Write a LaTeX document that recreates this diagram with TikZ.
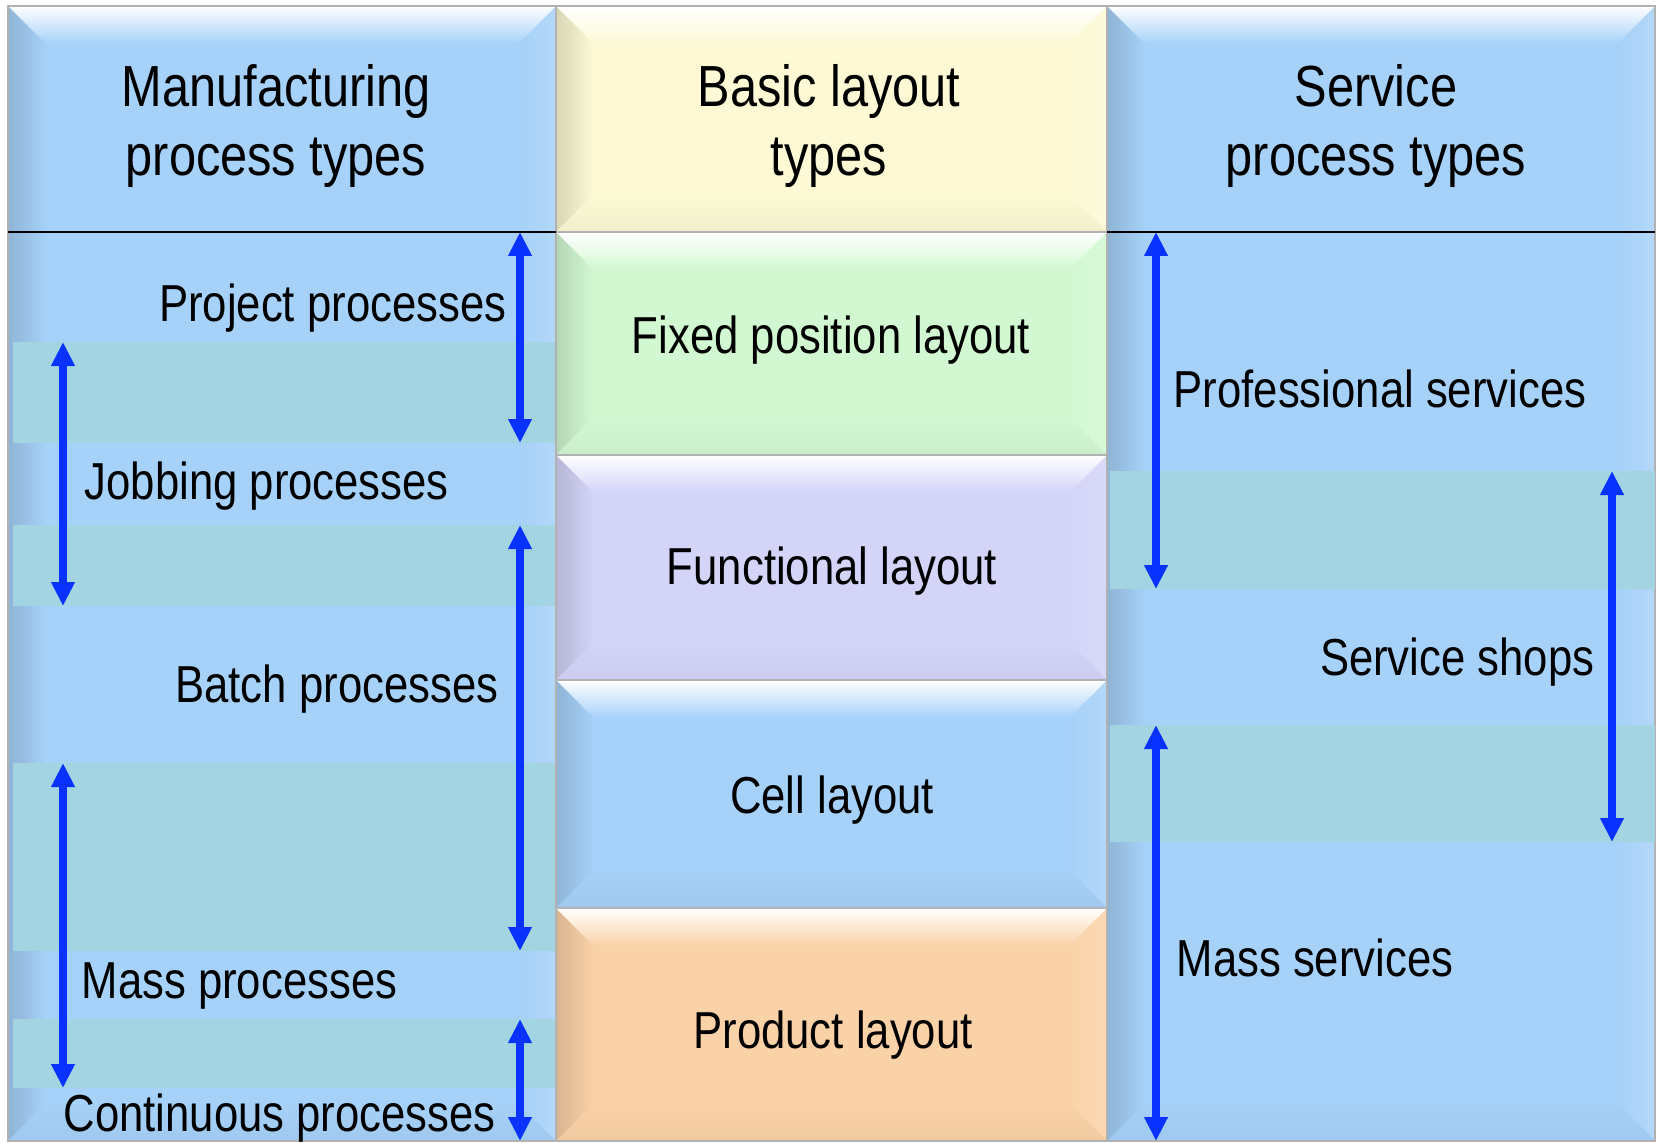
\documentclass[tikz,border=0pt]{standalone}
\usepackage{fontspec}
\setmainfont{Liberation Sans}[FakeStretch=0.84]
\usetikzlibrary{arrows.meta}

\definecolor{colblue}{RGB}{166,209,248}
\definecolor{bandteal}{RGB}{162,212,226}
\definecolor{hdyellow}{RGB}{252,249,212}
\definecolor{fixgreen}{RGB}{210,248,210}
\definecolor{funlilac}{RGB}{211,212,248}
\definecolor{prodorange}{RGB}{250,210,168}
\definecolor{arrowblue}{RGB}{10,50,255}

\newcommand{\bevelbox}[5]{%
  \fill [#5] (#1,#2) rectangle (#3,#4);
  \shade [left color=#5!86!black, right color=#5] (#1,#2) -- ({#1+38},{#2+38}) -- ({#1+38},{#4-38}) -- (#1,#4) -- cycle;
  \shade [left color=#5, right color=#5!85!white] (#3,#2) -- ({#3-38},{#2+38}) -- ({#3-38},{#4-38}) -- (#3,#4) -- cycle;
  \shade [top color=#5, bottom color=#5!96!black] (#1,#4) -- (#3,#4) -- ({#3-38},{#4-38}) -- ({#1+38},{#4-38}) -- cycle;
  \shade [top color=white, bottom color=#5] (#1,#2) -- (#3,#2) -- ({#3-38},{#2+38}) -- ({#1+38},{#2+38}) -- cycle;
  \draw [gray!60, line width=0.6pt] (#1,#2) rectangle (#3,#4);
}

\tikzset{
  hdr/.style={font=\fontsize{17.4}{20.7}\selectfont, align=center, inner sep=0pt},
  lbl/.style={font=\fontsize{15.6}{18}\selectfont, inner sep=0pt},
  span/.style={arrowblue, line width=2.5pt,
    {Triangle[width=6.7pt,length=7.2pt]}-{Triangle[width=6.7pt,length=7.2pt]}},
}

\begin{document}
\begin{tikzpicture}[x=0.3pt, y=-0.3pt]

\useasboundingbox [fill=white] (0,0) rectangle (1661,1143);

\bevelbox{8}{6}{556}{1141}{colblue}
\fill [bandteal] (13,342) rectangle (556,443);
\fill [bandteal] (13,525) rectangle (556,606);
\fill [bandteal] (13,763) rectangle (556,951);
\fill [bandteal] (13,1019) rectangle (556,1088);

\bevelbox{1107}{6}{1655}{1141}{colblue}
\fill [bandteal] (1110,471) rectangle (1655,589);
\fill [bandteal] (1110,725) rectangle (1655,842);

\bevelbox{556}{6}{1107}{232}{hdyellow}
\bevelbox{556}{232}{1107}{455}{fixgreen}
\bevelbox{556}{455}{1107}{680}{funlilac}
\bevelbox{556}{680}{1107}{908}{colblue}
\bevelbox{556}{908}{1107}{1141}{prodorange}

\draw [black, line width=0.8pt] (8,232) -- (556,232);
\draw [black, line width=0.8pt] (1107,232) -- (1655,232);

\node [hdr] (mfghdr) at (276,126) {Manufacturing\\process types};
\node [hdr] (layhdr) at (829,126) {Basic layout\\types};
\node [hdr] (srvhdr) at (1376,126) {Service\\process types};

\node [lbl] (fixed) at (831,340) {Fixed position layout};
\node [lbl] (functional) at (832,571) {Functional layout};
\node [lbl] (cell) at (832,800) {Cell layout};
\node [lbl] (product) at (833,1035) {Product layout};

\node [lbl, anchor=east] (project) at (507,308) {Project processes};
\node [lbl, anchor=west] (jobbing) at (84,486) {Jobbing processes};
\node [lbl, anchor=east] (batch) at (499,689) {Batch processes};
\node [lbl, anchor=west] (mass) at (81,986) {Mass processes};
\node [lbl, anchor=west] (continuous) at (63,1118) {Continuous processes};

\node [lbl, anchor=west] (professional) at (1173,389) {Professional services};
\node [lbl, anchor=east] (shops) at (1595,662) {Service shops};
\node [lbl, anchor=west] (massserv) at (1176,958) {Mass services};

\coordinate (projA) at (520,232);
\coordinate (projB) at (520,443);
\coordinate (batchA) at (520,525);
\coordinate (batchB) at (520,951);
\coordinate (contA) at (520,1019);
\coordinate (contB) at (520,1141);
\coordinate (jobA) at (63,342);
\coordinate (jobB) at (63,606);
\coordinate (massA) at (63,763);
\coordinate (massB) at (63,1088);
\coordinate (profA) at (1156,232);
\coordinate (profB) at (1156,589);
\coordinate (shopA) at (1612,471);
\coordinate (shopB) at (1612,842);
\coordinate (msA) at (1156,725);
\coordinate (msB) at (1156,1141);

\draw [span] (projA) to (projB);
\draw [span] (batchA) to (batchB);
\draw [span] (contA) to (contB);
\draw [span] (jobA) to (jobB);
\draw [span] (massA) to (massB);
\draw [span] (profA) to (profB);
\draw [span] (shopA) to (shopB);
\draw [span] (msA) to (msB);

\end{tikzpicture}
\end{document}
